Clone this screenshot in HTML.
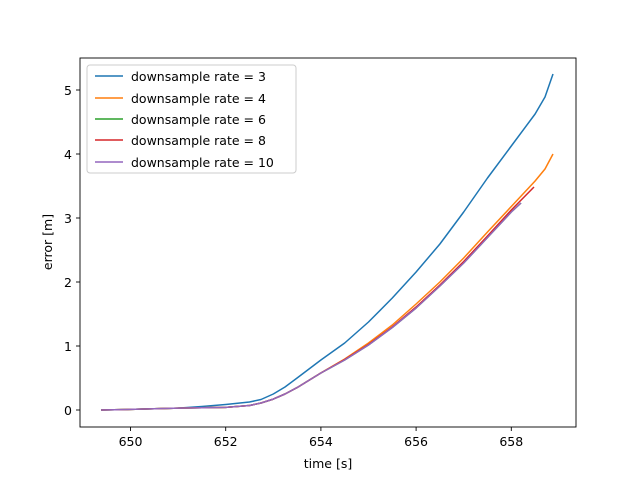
<!DOCTYPE html>
<html><head><style>body{margin:0;background:#fff}svg{display:block}text{font-family:"DejaVu Sans","Liberation Sans",sans-serif;font-size:12.5px;fill:#000}</style></head>
<body>
<svg width="640" height="480" viewBox="0 0 640 480" xmlns="http://www.w3.org/2000/svg">
<rect x="80" y="58" width="496" height="369" fill="#fff" stroke="#000" stroke-width="0.9"/>
<g stroke="#000" stroke-width="0.9">
<line x1="130.5" y1="427" x2="130.5" y2="431"/><line x1="225.7" y1="427" x2="225.7" y2="431"/><line x1="320.9" y1="427" x2="320.9" y2="431"/><line x1="416.1" y1="427" x2="416.1" y2="431"/><line x1="511.3" y1="427" x2="511.3" y2="431"/>
<line x1="76" y1="410" x2="80" y2="410"/><line x1="76" y1="346" x2="80" y2="346"/><line x1="76" y1="282" x2="80" y2="282"/><line x1="76" y1="218" x2="80" y2="218"/><line x1="76" y1="154" x2="80" y2="154"/><line x1="76" y1="90" x2="80" y2="90"/>
</g>
<g text-anchor="middle"><text x="130.5" y="446">650</text><text x="225.7" y="446">652</text><text x="320.9" y="446">654</text><text x="416.1" y="446">656</text><text x="511.3" y="446">658</text>
<text x="328" y="468">time [s]</text></g>
<g text-anchor="end"><text x="72" y="415">0</text><text x="72" y="351">1</text><text x="72" y="287">2</text><text x="72" y="223">3</text><text x="72" y="159">4</text><text x="72" y="95">5</text></g>
<text x="52" y="242" text-anchor="middle" transform="rotate(-90 52 242)">error [m]</text>
<g fill="none" stroke-width="1.5" stroke-linejoin="round">
<polyline stroke="#1f77b4" points="101,410 130.5,409.4 178.1,408.1 201.9,406.5 225.7,404.5 249.5,402 261,399.5 273.3,394 285,387 297.1,378 320.9,360 344.7,343 368.5,322 392.3,298 416.1,272 439.9,244 463.7,212 487.5,178 511.3,146 535.1,114 545,97 553,74"/>
<polyline stroke="#ff7f0e" points="101,410 130.5,409.4 178.1,408.1 225.7,407.4 249.5,405.5 261,403 273.3,399.1 285,394 297.1,387.6 320.9,372.9 344.7,359 368.5,343 392.3,325 416.1,304 439.9,282 463.7,258 487.5,232 511.3,206.5 535.1,181 545,169 553,154"/>
<polyline stroke="#2ca02c" points="101,410 130.5,409.4 178.1,408.1 225.7,407.4 249.5,405.5 261,403 273.3,399.1 285,394 297.1,387.6 320.9,373 344.7,360 368.5,345 392.3,327.5 416.1,308 439.9,286 463.7,263 487.5,237.5 511.3,212 521,203"/>
<polyline stroke="#d62728" points="101,410 130.5,409.4 178.1,408.1 225.7,407.4 249.5,405.5 261,403 273.3,399.1 285,394 297.1,387.6 320.9,373 344.7,359.5 368.5,344.5 392.3,327 416.1,307 439.9,285 463.7,261.5 487.5,236 511.3,210 534,187"/>
<polyline stroke="#9467bd" points="101,410 130.5,409.4 178.1,408.1 225.7,407.4 249.5,405.5 261,403 273.3,399.1 285,394 297.1,387.6 320.9,373 344.7,360 368.5,345 392.3,327.5 416.1,308 439.9,286 463.7,263 487.5,237.5 511.3,212 521,203"/>
</g>
<rect x="87" y="65" width="209" height="108" rx="3" fill="#fff" fill-opacity="0.8" stroke="#ccc"/>
<g stroke-width="1.5"><line x1="95" y1="76" x2="123" y2="76" stroke="#1f77b4"/><line x1="95" y1="98" x2="123" y2="98" stroke="#ff7f0e"/><line x1="95" y1="119" x2="123" y2="119" stroke="#2ca02c"/><line x1="95" y1="140" x2="123" y2="140" stroke="#d62728"/><line x1="95" y1="162" x2="123" y2="162" stroke="#9467bd"/></g>
<text x="131" y="81">downsample rate = 3</text><text x="131" y="103">downsample rate = 4</text><text x="131" y="124">downsample rate = 6</text><text x="131" y="145">downsample rate = 8</text><text x="131" y="167">downsample rate = 10</text>
</svg>
</body></html>
